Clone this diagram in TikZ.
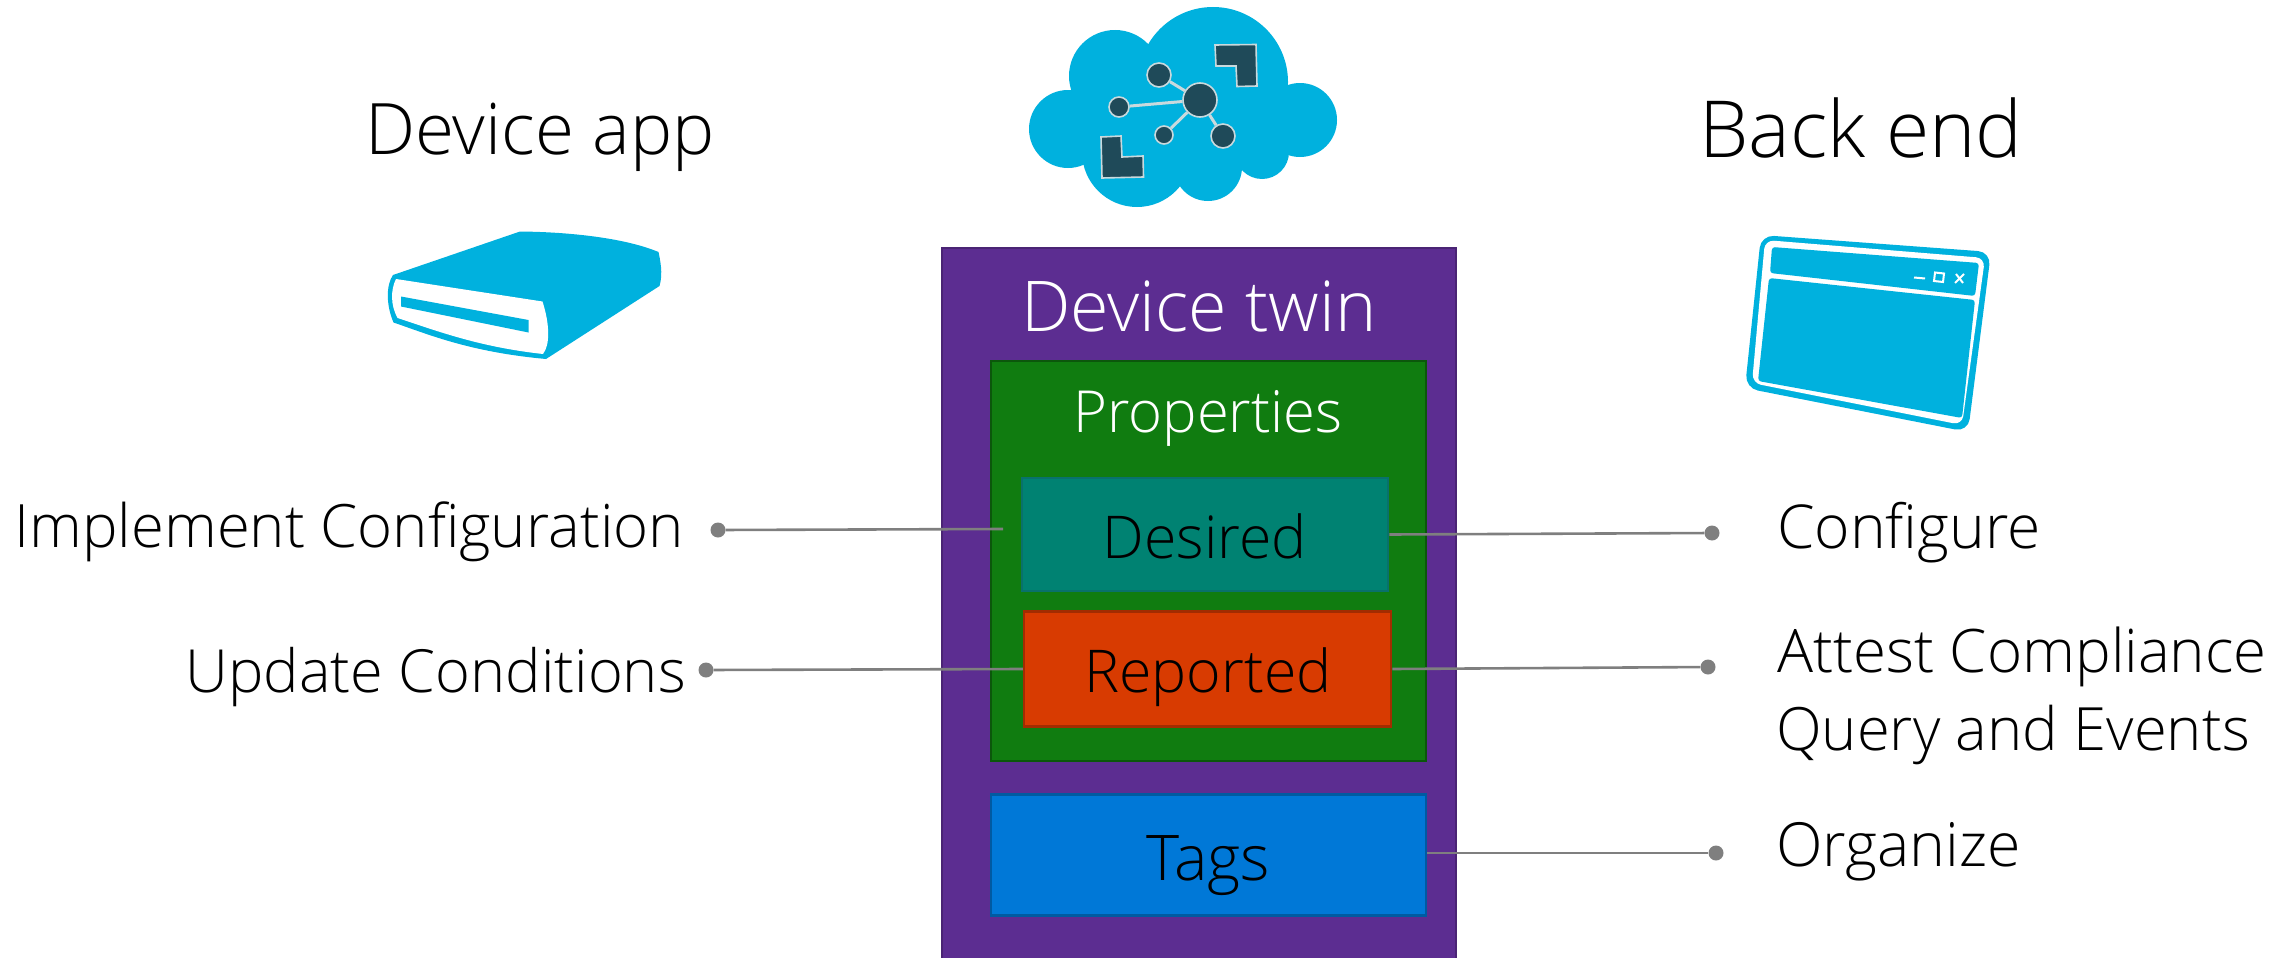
\documentclass[tikz,border=0pt]{standalone}
\usepackage{fontspec}
\setmainfont{Open Sans Light}
\definecolor{cblue}{HTML}{00B1DE}
\definecolor{cdark}{HTML}{1F4A59}
\definecolor{clight}{HTML}{C9D9DD}
\definecolor{cpurple}{HTML}{5C2D91}
\definecolor{cgreen}{HTML}{107C10}
\definecolor{cteal}{HTML}{008272}
\definecolor{cred}{HTML}{D83B01}
\definecolor{ctags}{HTML}{0078D7}
\definecolor{cline}{HTML}{7F7F7F}
\newcommand{\fs}[1]{\fontsize{#1}{#1}\selectfont}
\tikzset{
  panel/.style={rectangle,inner sep=0pt,line width=2.5pt,text=black},
  lab/.style={inner sep=0pt,text=black,align=left},
  dotnode/.style={circle,fill=cline,inner sep=0pt,minimum size=15pt},
  conn/.style={draw=cline,line width=2.6pt},
  hubnode/.style={circle,fill=cdark,draw=clight,line width=1.6pt,inner sep=0pt},
  spoke/.style={draw=clight,line width=3pt},
  blob/.style={circle,fill=cblue,inner sep=0pt},
  lshape/.style={fill=cdark,draw=clight,line width=1.6pt},
}
\begin{document}
\begin{tikzpicture}[x=1pt,y=-1pt]
\useasboundingbox (0,0) rectangle (2291,958);
% twin boxes
\path[fill=cpurple,draw=cpurple!80!black,line width=2pt] (942,248) rectangle (1456,962);
\node[lab,text=white,font=\fs{70}] (twin) at (1199,306) {Device twin};
\node[panel,fill=cgreen,draw=cgreen!70!black,minimum width=435pt,minimum height=400pt] (props) at (1208.5,561) {};
\node[lab,text=white,font=\fs{58}] (proplab) at (1208,418) {Properties};
\node[panel,fill=cteal,draw=cteal!70!cdark,minimum width=366pt,minimum height=113pt] (desired) at (1205,534.5) {};
\node[lab,font=\fs{59}] (desiredlab) at (1205,536) {Desired};
\node[panel,fill=cred,draw=cred!75!black,minimum width=367pt,minimum height=115pt] (reported) at (1207.5,669) {};
\node[lab,font=\fs{59}] (reportedlab) at (1208,677) {Reported};
\node[panel,fill=ctags,draw=ctags!75!black,minimum width=435pt,minimum height=121pt] (tags) at (1208.5,855) {};
\node[lab,font=\fs{63}] (tagslab) at (1208,866) {Tags};
% headings
\node[lab,font=\fs{71}] (devapp) at (540,137) {Device app};
\node[lab,font=\fs{78.7}] (backend) at (1861,128) {Back end};
% side labels
\node[lab,anchor=east,font=\fs{59.8}] (impl) at (684,532) {Implement Configuration};
\node[lab,anchor=east,font=\fs{59.5}] (upd) at (686,677) {Update Conditions};
\node[lab,anchor=west,font=\fs{60.5}] (conf) at (1777,533) {Configure};
\node[lab,anchor=west,font=\fs{60}] (att) at (1777,657) {Attest Compliance};
\node[lab,anchor=west,font=\fs{59.7}] (qry) at (1776,735) {Query and Events};
\node[lab,anchor=west,font=\fs{60.8}] (org) at (1776,852) {Organize};
% dots and connectors
\node[dotnode] (d1) at (718,530) {};
\node[dotnode] (d2) at (706,670) {};
\node[dotnode] (d3) at (1712,533) {};
\node[dotnode] (d4) at (1708,667) {};
\node[dotnode] (d5) at (1716,853) {};
\coordinate (e1) at (1003,529);
\coordinate (e5) at (1427,853);
\draw[conn] (d1) -- (e1);
\draw[conn] (d2) -- (reported.west);
\draw[conn] (desired.east) -- (d3);
\draw[conn] (reported.east) -- (d4);
\draw[conn] (e5) -- (d5);
% cloud
\node[blob,minimum size=150pt] (c1) at (1213,82) {};
\node[blob,minimum size=92pt] (c2) at (1115,76) {};
\node[blob,minimum size=78pt] (c3) at (1068,129) {};
\node[blob,minimum size=74pt] (c4) at (1300,120) {};
\node[blob,minimum size=110pt] (c5) at (1137,152) {};
\node[blob,minimum size=68pt] (c6) at (1208,167) {};
\node[blob,minimum size=54pt] (c7) at (1262,152) {};
\fill[cblue] (1090,120) -- (1150,60) -- (1280,70) -- (1290,150) -- (1240,165) -- (1160,180) -- cycle;
\node[hubnode,minimum size=34pt] (hub) at (1200,100) {};
\node[hubnode,minimum size=24pt] (n1) at (1159,75) {};
\node[hubnode,minimum size=20pt] (n2) at (1119,107) {};
\node[hubnode,minimum size=18pt] (n3) at (1164,135) {};
\node[hubnode,minimum size=24pt] (n4) at (1223,136) {};
\draw[spoke] (hub) -- (n1);
\draw[spoke] (hub) -- (n2);
\draw[spoke] (hub) -- (n3);
\draw[spoke] (hub) -- (n4);
\path[lshape] (1215,45) -- (1256,44.5) -- (1257,86) -- (1237,86.5) -- (1236,66) -- (1216,66) -- cycle;
\path[lshape] (1101,137) -- (1121,136) -- (1122,157) -- (1143,156) -- (1143.5,177) -- (1102,178) -- cycle;
% drive icon
\fill[cblue] (520,231.5) .. controls (570,232) and (625,238) .. (658.5,252) .. controls (662,268) and (662,277) .. (659.5,286) -- (546,359) .. controls (470,352) and (430,335) .. (393.5,322.5) .. controls (386,305) and (386,285) .. (393,275) -- cycle;
\fill[white] (396,279) -- (542.5,301.5) .. controls (550,325) and (550,345) .. (543,354) .. controls (480,347) and (440,332) .. (397.5,318) .. controls (390.5,305) and (390.5,290) .. (396,279) -- cycle;
\fill[cblue] (401,296.5) -- (528.5,320) -- (528.5,332.5) -- (401,306.5) -- cycle;
% window icon
\fill[cblue,rounded corners=13pt] (1761,235) -- (1991,252) -- (1968,432) -- (1745,388) -- cycle;
\fill[white,rounded corners=9pt] (1765,240) -- (1985,258) -- (1962,425) -- (1752,383) -- cycle;
\fill[cblue,rounded corners=3pt] (1772,247) -- (1979,263) -- (1975,296) -- (1770,273) -- cycle;
\fill[cblue,rounded corners=3pt] (1769,278) -- (1975,300) -- (1962,418) -- (1758,381) -- cycle;
\draw[white,line width=2pt] (1914,277.5) -- (1925,278.5);
\draw[white,line width=2pt] (1935,272.5) -- (1944,273.5) -- (1943,282) -- (1934,281) -- cycle;
\draw[white,line width=2pt] (1956,274) -- (1963,283) (1964,274) -- (1955,283);
\end{tikzpicture}
\end{document}
